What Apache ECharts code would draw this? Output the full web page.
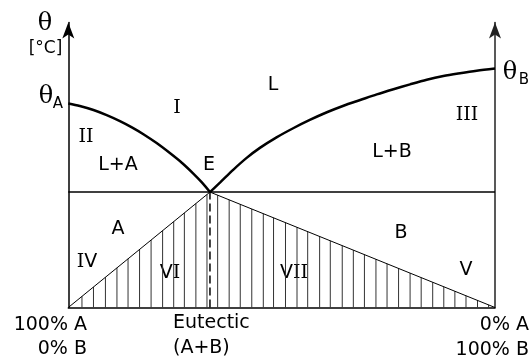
<!DOCTYPE html>
<html>
<head>
<meta charset="utf-8">
<script src="https://cdn.jsdelivr.net/npm/echarts@6/dist/echarts.min.js"></script>
<style>
  html, body { margin: 0; padding: 0; background: #fff; }
  #chart { width: 532px; height: 358px; }
</style>
</head>
<body>
<div id="chart"></div>
<script>
// Binary eutectic phase diagram: composition (% B) on x, temperature on y.

// Melting points of the pure components and the eutectic point
const meltA = 71.6;
const meltB = 83.9;
const eutecticX = 33.2;
const eutecticT = 40.5;

// Liquidus curve from pure A down to the eutectic point
const liquidusAX = [0, 2.7, 5.9, 9.0, 12.1, 14.9, 17.6, 20.7, 23.8, 26.6, 29.3, 31.3, 33.2];
const liquidusAT = [71.6, 70.7, 69.3, 67.5, 65.4, 63.2, 60.8, 57.7, 54.2, 50.8, 47.0, 43.9, 40.5];

// Liquidus curve from the eutectic point up to pure B
const liquidusBX = [33.2, 35.6, 38.7, 41.8, 44.9, 48.8, 52.7, 56.6, 60.6, 64.5,
  68.4, 72.3, 76.2, 80.1, 84.0, 87.9, 91.8, 95.7, 100];
const liquidusBT = [40.5, 43.9, 48.4, 52.5, 56.0, 59.7, 62.9, 65.8, 68.5, 70.8,
  72.8, 74.8, 76.6, 78.3, 79.9, 81.2, 82.2, 83.1, 83.9];

// Compositions of the vertical hatch lines under the solidus
const hatchX = [3.2, 5.9, 8.7, 11.4, 14.0, 16.7, 19.4, 22.1, 24.7, 27.2, 29.9, 32.5,
  35.0, 37.7, 40.3, 43.0, 45.7, 48.1, 50.9, 53.6, 56.1, 58.9, 61.4, 64.2, 66.8,
  69.4, 72.1, 74.7, 77.4, 80.1, 82.7, 85.4, 88.0, 90.6, 93.2, 95.9, 98.5];

// Composition tick labels
const leftTick = ['100% A', '0% B'];
const eutecticTick = ['Eutectic', '(A+B)'];
const rightTick = ['0% A', '100% B'];

const SANS = 'DejaVu Sans';
const SERIF = 'DejaVu Serif';
const FS = 19;

const zip = (xs, ys) => xs.map((x, i) => [x, ys[i]]);

// Height of the solidus (the A-E-B triangle) at a given composition
function solidusAt(x) {
  return x <= eutecticX
    ? eutecticT * x / eutecticX
    : eutecticT * (100 - x) / (100 - eutecticX);
}

function text(str, x, y, opts) {
  return {
    type: 'text', x: x, y: y, silent: true,
    style: Object.assign({
      text: str, fill: '#000', fontFamily: SANS, fontSize: FS,
      align: 'center', verticalAlign: 'middle'
    }, opts || {})
  };
}

// Roman numerals: serif I, sans V
function roman(str, x, y) {
  const parts = str.split('').map(c => c === 'I' ? '{i|I}' : '{v|V}').join('');
  return {
    type: 'text', x: x, y: y, silent: true,
    style: {
      text: parts, align: 'center', verticalAlign: 'middle', fill: '#000',
      rich: {
        i: { fontFamily: SERIF, fontSize: FS, fill: '#000' },
        v: { fontFamily: SANS, fontSize: FS, fill: '#000' }
      }
    }
  };
}

const chart = echarts.init(document.getElementById('chart'), null, { renderer: 'canvas' });

const axisArrow = { symbol: ['none', 'arrow'], symbolSize: [9, 16] };

chart.setOption({
  animation: false,
  backgroundColor: '#fff',
  grid: { left: 68.3, right: 37, top: 22.5, bottom: 50.5 },
  xAxis: {
    type: 'value', min: 0, max: 100,
    axisLine: { show: true, onZero: false, lineStyle: { color: '#000', width: 1.5 } },
    axisTick: { show: false }, axisLabel: { show: false }, splitLine: { show: false }
  },
  yAxis: [
    {
      type: 'value', min: 0, max: 100, position: 'left',
      axisLine: Object.assign({ show: true, onZero: false, lineStyle: { color: '#000', width: 1.5 } }, axisArrow),
      axisTick: { show: false }, axisLabel: { show: false }, splitLine: { show: false }
    },
    {
      type: 'value', min: 0, max: 100, position: 'right',
      axisLine: Object.assign({ show: true, onZero: false, lineStyle: { color: '#222', width: 1.5 } }, axisArrow),
      axisTick: { show: false }, axisLabel: { show: false }, splitLine: { show: false }
    }
  ],
  series: [
    {
      name: 'hatch', type: 'custom', silent: true,
      data: hatchX.map(x => [x]),
      renderItem: function (params, api) {
        const x = api.value(0);
        const p0 = api.coord([x, 0]);
        const p1 = api.coord([x, solidusAt(x)]);
        return {
          type: 'line',
          shape: { x1: p0[0], y1: p0[1], x2: p1[0], y2: p1[1] },
          style: { stroke: '#333', lineWidth: 1 }
        };
      }
    },
    {
      name: 'solidus', type: 'line', silent: true, symbol: 'none',
      data: [[0, 0], [eutecticX, eutecticT], [100, 0]],
      lineStyle: { color: '#000', width: 1 }
    },
    {
      name: 'eutectic line', type: 'line', silent: true, symbol: 'none',
      data: [[0, eutecticT], [100, eutecticT]],
      lineStyle: { color: '#000', width: 1.5 }
    },
    {
      name: 'eutectic composition', type: 'line', silent: true, symbol: 'none',
      data: [[eutecticX, 0], [eutecticX, eutecticT]],
      lineStyle: { color: '#000', width: 1.5, type: [8, 4] }
    },
    {
      name: 'liquidus A', type: 'line', silent: true, symbol: 'none', smooth: 0.3,
      data: zip(liquidusAX, liquidusAT),
      lineStyle: { color: '#000', width: 2.5 }
    },
    {
      name: 'liquidus B', type: 'line', silent: true, symbol: 'none', smooth: 0.3,
      data: zip(liquidusBX, liquidusBT),
      lineStyle: { color: '#000', width: 2.5 }
    }
  ],
  graphic: [
    // temperature axis title
    text('θ', 45, 24, { fontFamily: SERIF, fontSize: 24 }),
    text('[°C]', 45.5, 49, { fontSize: 17 }),
    // melting points
    text('θ', 46, 97, { fontFamily: SERIF, fontSize: 24 }),
    text('A', 58, 104, { fontSize: 15 }),
    text('θ', 510, 73, { fontFamily: SERIF, fontSize: 24 }),
    text('B', 524, 80, { fontSize: 15 }),
    // phase regions
    text('L', 273, 85),
    roman('I', 177, 108),
    roman('II', 86, 137),
    text('L+A', 118, 165),
    text('E', 209, 165),
    roman('III', 467, 115),
    text('L+B', 392, 152),
    text('A', 118, 229),
    roman('IV', 87, 262),
    roman('VI', 170, 273),
    roman('VII', 294, 273),
    text('B', 401, 233),
    roman('V', 466, 270),
    // composition labels
    text(leftTick[0], 87, 325, { align: 'right' }),
    text(leftTick[1], 87, 349, { align: 'right' }),
    text(eutecticTick[0], 173, 323, { align: 'left' }),
    text(eutecticTick[1], 173, 348, { align: 'left' }),
    text(rightTick[0], 529, 325, { align: 'right' }),
    text(rightTick[1], 529, 350, { align: 'right' })
  ]
});
</script>
</body>
</html>
